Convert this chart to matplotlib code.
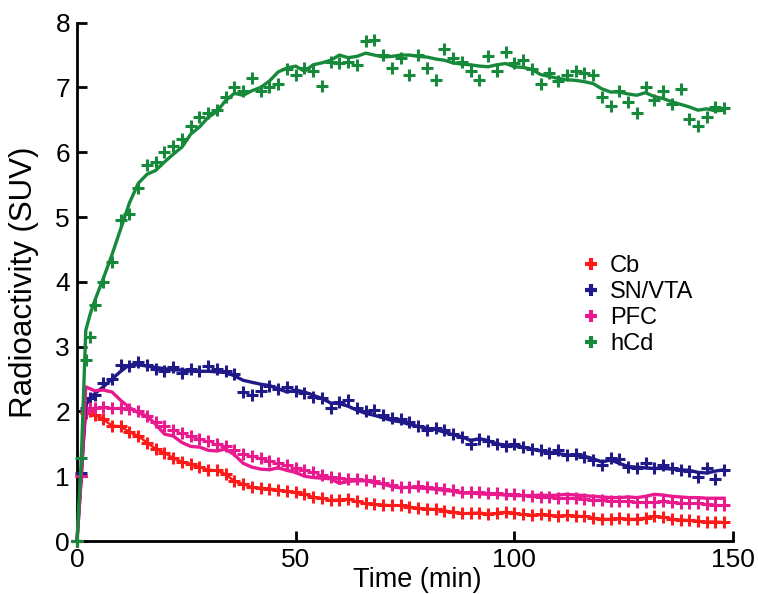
import matplotlib
matplotlib.use("Agg")
import matplotlib.pyplot as plt
from matplotlib.lines import Line2D

plt.rcParams['font.family'] = ['Liberation Sans', 'DejaVu Sans']

time = [0, 1, 2, 3] + list(range(4, 149, 2))

cb_pts = [0, 1.0, 1.97, 2.0, 1.95, 1.88, 1.78, 1.77, 1.68, 1.62, 1.52, 1.42, 1.36, 1.28,
          1.22, 1.19, 1.14, 1.10, 1.09, 1.03, 0.92, 0.88, 0.83, 0.82, 0.81, 0.79, 0.77,
          0.75, 0.72, 0.68, 0.66, 0.63, 0.64, 0.65, 0.61, 0.58, 0.57, 0.56, 0.55, 0.55,
          0.53, 0.51, 0.50, 0.49, 0.47, 0.45, 0.43, 0.43, 0.44, 0.42, 0.43, 0.45, 0.43,
          0.41, 0.40, 0.41, 0.40, 0.39, 0.40, 0.39, 0.38, 0.36, 0.34, 0.34, 0.35, 0.34,
          0.34, 0.36, 0.38, 0.37, 0.34, 0.33, 0.32, 0.31, 0.30, 0.30, 0.29]

pfc_pts = [0, 1.0, 2.0, 2.05, 2.06, 2.07, 2.06, 2.05, 2.03, 2.0, 1.93, 1.83, 1.77, 1.71,
           1.66, 1.62, 1.58, 1.54, 1.50, 1.47, 1.40, 1.35, 1.31, 1.28, 1.24, 1.20, 1.17,
           1.13, 1.09, 1.06, 1.02, 0.99, 0.98, 0.96, 0.95, 0.94, 0.92, 0.89, 0.86, 0.84,
           0.84, 0.85, 0.84, 0.82, 0.80, 0.78, 0.76, 0.75, 0.75, 0.74, 0.74, 0.73, 0.72,
           0.71, 0.70, 0.68, 0.68, 0.67, 0.66, 0.66, 0.65, 0.64, 0.63, 0.62, 0.61, 0.61,
           0.60, 0.60, 0.60, 0.61, 0.60, 0.59, 0.58, 0.58, 0.57, 0.56, 0.55]

pfc_line = [0, 1.0, 2.38, 2.35, 2.32, 2.33, 2.30, 2.17, 2.06, 1.98, 1.93, 1.80, 1.65, 1.62,
            1.52, 1.46, 1.45, 1.40, 1.39, 1.42, 1.33, 1.20, 1.14, 1.11, 1.10, 1.13, 1.09,
            1.06, 1.00, 0.98, 0.97, 0.96, 0.89, 0.92, 0.93, 0.93, 0.90, 0.88, 0.84, 0.82,
            0.83, 0.82, 0.81, 0.80, 0.78, 0.77, 0.74, 0.74, 0.73, 0.72, 0.72, 0.71, 0.70,
            0.70, 0.70, 0.71, 0.70, 0.71, 0.72, 0.71, 0.70, 0.69, 0.68, 0.67, 0.67, 0.68,
            0.67, 0.69, 0.72, 0.71, 0.69, 0.68, 0.67, 0.67, 0.66, 0.66, 0.66]

sn_pts = [0, 1.05, 2.05, 2.2, 2.25, 2.44, 2.5, 2.72, 2.70, 2.77, 2.72, 2.65, 2.62, 2.68,
          2.60, 2.66, 2.63, 2.70, 2.66, 2.62, 2.58, 2.30, 2.25, 2.32, 2.40, 2.35, 2.38,
          2.32, 2.28, 2.22, 2.20, 2.05, 2.15, 2.18, 2.05, 2.00, 2.02, 1.95, 1.90, 1.88,
          1.83, 1.78, 1.72, 1.75, 1.72, 1.65, 1.60, 1.50, 1.58, 1.55, 1.50, 1.46, 1.49,
          1.45, 1.42, 1.40, 1.36, 1.40, 1.33, 1.35, 1.30, 1.25, 1.18, 1.28, 1.26, 1.14,
          1.12, 1.20, 1.13, 1.18, 1.12, 1.10, 1.08, 0.99, 1.12, 0.95, 1.10]

sn_line = [0, 1.05, 2.1, 2.2, 2.27, 2.38, 2.5, 2.62, 2.72, 2.72, 2.70, 2.68, 2.66, 2.64,
           2.64, 2.62, 2.62, 2.62, 2.61, 2.60, 2.55, 2.48, 2.45, 2.42, 2.40, 2.35, 2.30,
           2.33, 2.30, 2.25, 2.20, 2.13, 2.12, 2.08, 2.02, 1.97, 1.94, 1.90, 1.86, 1.84,
           1.80, 1.77, 1.74, 1.72, 1.68, 1.64, 1.61, 1.55, 1.58, 1.55, 1.50, 1.48, 1.47,
           1.45, 1.42, 1.39, 1.37, 1.35, 1.33, 1.32, 1.31, 1.27, 1.22, 1.25, 1.20, 1.15,
           1.14, 1.13, 1.12, 1.12, 1.11, 1.10, 1.09, 1.06, 1.05, 1.08, 1.10]

hcd_pts = [0, 1.28, 2.8, 3.15, 3.65, 4.0, 4.3, 4.95, 5.05, 5.45, 5.8, 5.85, 6.0, 6.1,
           6.2, 6.4, 6.55, 6.6, 6.65, 6.85, 7.0, 6.95, 7.15, 6.95, 7.0, 7.05, 7.28,
           7.2, 7.3, 7.25, 7.02, 7.4, 7.38, 7.4, 7.35, 7.72, 7.74, 7.5, 7.3, 7.45,
           7.2, 7.5, 7.3, 7.12, 7.6, 7.45, 7.4, 7.25, 7.12, 7.48, 7.25, 7.55, 7.38,
           7.42, 7.28, 7.05, 7.22, 7.1, 7.2, 7.25, 7.22, 7.2, 6.85, 6.72, 6.95, 6.78,
           6.6, 7.0, 6.8, 6.95, 6.75, 6.98, 6.52, 6.4, 6.55, 6.7, 6.68]

hcd_line = [0, 1.3, 3.25, 3.5, 3.7, 4.05, 4.42, 4.82, 5.22, 5.52, 5.66, 5.72, 5.85, 5.97,
            6.08, 6.28, 6.39, 6.54, 6.63, 6.8, 6.91, 6.88, 6.95, 7.0, 7.1, 7.24, 7.3,
            7.33, 7.25, 7.35, 7.38, 7.42, 7.5, 7.46, 7.48, 7.53, 7.5, 7.47, 7.48, 7.5,
            7.5, 7.48, 7.47, 7.44, 7.42, 7.38, 7.36, 7.35, 7.33, 7.32, 7.35, 7.37, 7.32,
            7.31, 7.28, 7.2, 7.17, 7.14, 7.12, 7.11, 7.09, 7.06, 6.98, 6.93, 6.93, 6.9,
            6.88, 6.92, 6.86, 6.83, 6.78, 6.74, 6.70, 6.65, 6.67, 6.64, 6.65]

labels = ['Cb', 'SN/VTA', 'PFC', 'hCd']
colors = ['#ff1a1a', '#201a88', '#e9198e', '#17893a']

fig = plt.figure(figsize=(7.58, 5.94), dpi=100)
ax = fig.add_axes([0.1016, 0.0892, 0.8654, 0.8726])

mk = dict(marker='+', markersize=9, markeredgewidth=2.2, linestyle='none', clip_on=False)
lw = 2.4

ax.plot(time, cb_pts, color=colors[0], lw=1.8, clip_on=False, zorder=2)
ax.plot(time, cb_pts, color=colors[0], zorder=3, **mk)
ax.plot(time, sn_pts, color=colors[1], zorder=3, **mk)
ax.plot(time, sn_line, color=colors[1], lw=lw, clip_on=False, zorder=4)
ax.plot(time, pfc_pts, color=colors[2], zorder=3, **mk)
ax.plot(time, pfc_line, color=colors[2], lw=lw, clip_on=False, zorder=4)
ax.plot(time, hcd_pts, color=colors[3], zorder=5, **mk)
ax.plot(time, hcd_line, color=colors[3], lw=lw, clip_on=False, zorder=6)

ax.set_xlim(0, 150)
ax.set_ylim(0, 8)
ax.set_xticks([0, 50, 100, 150])
ax.set_yticks(range(0, 9))
for s in ['top', 'right']:
    ax.spines[s].set_visible(False)
for s in ['left', 'bottom']:
    ax.spines[s].set_linewidth(2)
ax.tick_params(direction='in', length=7, width=2, labelsize=19, pad=5)
ax.set_xlabel('Time (min)', fontsize=19.5)
ax.xaxis.set_label_coords(0.518, -0.05)
ax.set_ylabel('Radioactivity (SUV)', fontsize=22.5)
ax.yaxis.set_label_coords(-0.058, 0.5)

handles = [Line2D([], [], marker='+', markersize=9, markeredgewidth=3, linestyle='none',
                  color=c) for c in colors]
ax.legend(handles, labels, loc='center left', bbox_to_anchor=(0.755, 0.455), frameon=False,
          fontsize=17, handlelength=0.8, handletextpad=0.4, labelspacing=0.17,
          borderaxespad=0)

fig.savefig('out.png', dpi=100)
